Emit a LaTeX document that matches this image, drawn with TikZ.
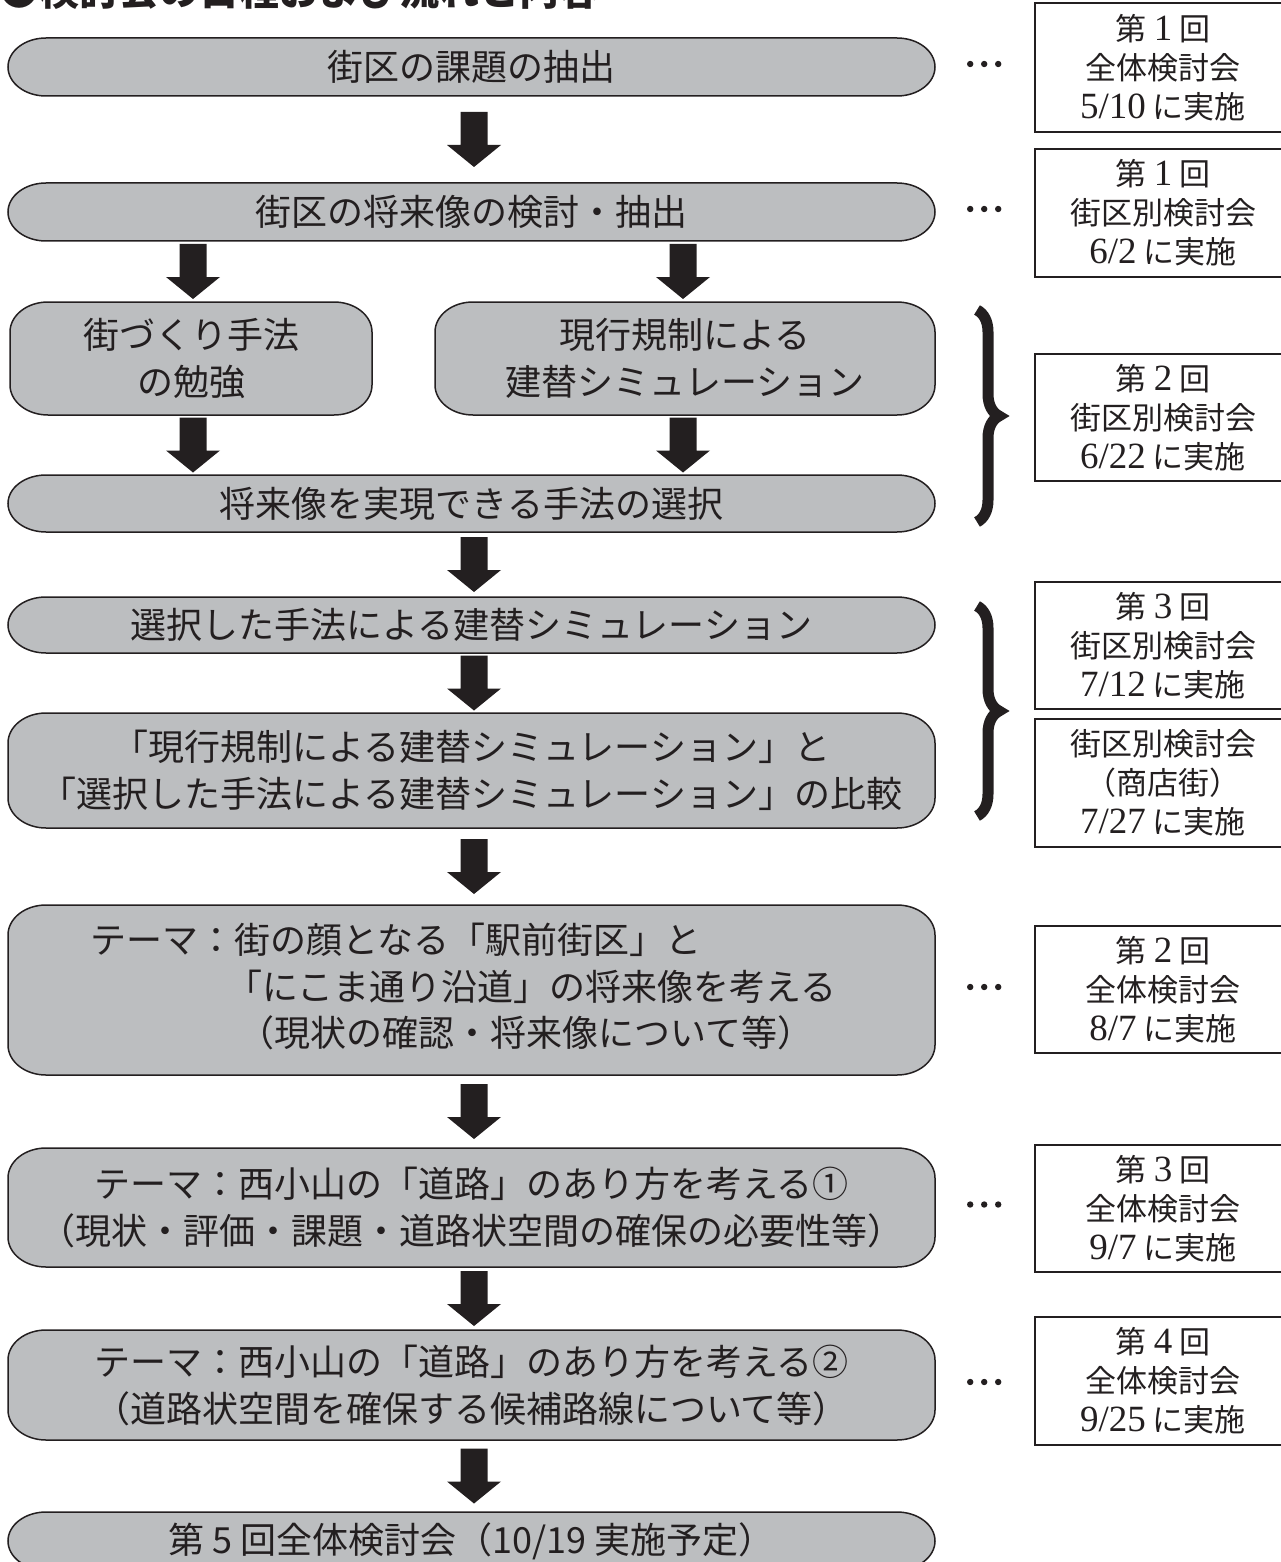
\documentclass[tikz,border=0pt]{standalone}
\usepackage{fontspec}
\newfontfamily\gothic{Noto Sans CJK JP}
\newfontfamily\rserif{Liberation Serif}
\usetikzlibrary{calc,decorations.pathreplacing}
\definecolor{boxgray}{HTML}{BCBEC0}
\definecolor{ink}{HTML}{231F20}
\newcommand\rdig[1]{{\rserif\fontsize{37}{39}\selectfont #1}}
\tikzset{
  boxshape/.style={fill=boxgray,draw=ink,line width=1.5pt},
  boxtext/.style={inner sep=0pt,align=center,text=ink,font=\gothic\fontsize{36}{47}\selectfont},
  linetext/.style={inner sep=0pt,anchor=west,text=ink,font=\gothic\fontsize{36}{47}\selectfont},
  rbox/.style={draw=ink,line width=1.3pt,fill=white,inner sep=0pt,align=center,text=ink,
    minimum width=256pt,font=\gothic\fontsize{31}{39}\selectfont},
  arrowfill/.style={fill=ink},
  bracestyle/.style={draw=ink,line width=11pt,decorate,decoration={brace,amplitude=22pt}},
}
\newcommand\flowbox[6]{%
  \pgfmathsetmacro\fbry{min(30,(#5-#3)/2)}%
  \pgfmathsetmacro\fbrx{38}%
  \path[boxshape] (#2+\fbrx,-#3) -- (#4-\fbrx,-#3)
    arc[start angle=90,end angle=0,x radius=\fbrx pt,y radius=\fbry pt]
    -- (#4,-#5+\fbry)
    arc[start angle=0,end angle=-90,x radius=\fbrx pt,y radius=\fbry pt]
    -- (#2+\fbrx,-#5)
    arc[start angle=270,end angle=180,x radius=\fbrx pt,y radius=\fbry pt]
    -- (#2,-#3-\fbry)
    arc[start angle=180,end angle=90,x radius=\fbrx pt,y radius=\fbry pt]
    -- cycle;
  \node[boxtext,minimum width={#4-#2},minimum height={#5-#3}] (#1) at ({(#2+#4)/2},{-(#3+#5)/2}) {#6};
}
\newcommand\blockarrow[3]{%
  \fill[arrowfill] let \p1=(#1.south), \p2=(#2.north), \n1={(\y1+\y2)/2} in
    (#3-13.5,\n1+27.5) -- (#3+13.5,\n1+27.5) -- (#3+13.5,\n1-5.5) -- (#3+27,\n1-5.5)
    -- (#3,\n1-27.5) -- (#3-27,\n1-5.5) -- (#3-13.5,\n1-5.5) -- cycle;
}
\newcommand\leaderdots[1]{%
  \fill[ink] let \p1=(#1.east) in
    (\x1+35,\y1+3) circle (3.2pt) (\x1+49,\y1+3) circle (3.2pt) (\x1+63,\y1+3) circle (3.2pt);
}
\begin{document}
\begin{tikzpicture}[x=1pt,y=1pt]
\useasboundingbox (0,0) rectangle (1281,-1562);
\clip (0,0) rectangle (1281,-1562);

% title (cut off at top)
\node[anchor=base west,inner sep=0pt,text=ink,font=\gothic\bfseries\fontsize{40}{40}\selectfont] (title) at (-1,-6) {●検討会の日程および流れと内容};

% main flow boxes
\flowbox{b1}{8}{38}{935}{96}{街区の課題の抽出}
\flowbox{b2}{8}{183}{935}{241}{街区の将来像の検討・抽出}
\flowbox{b3a}{10}{302}{372}{415}{街づくり手法\\の勉強}
\flowbox{b3b}{435}{302}{935}{415}{現行規制による\\建替シミュレーション}
\flowbox{b4}{8}{475}{935}{532}{将来像を実現できる手法の選択}
\flowbox{b5}{8}{597}{935}{653}{選択した手法による建替シミュレーション}
\flowbox{b6}{8}{713}{935}{828}{「現行規制による建替シミュレーション」と\\「選択した手法による建替シミュレーション」の比較}
\flowbox{b7}{8}{905}{935}{1075}{}
\node[linetext] (t7a) at (90,-940) {テーマ：街の顔となる「駅前街区」と};
\node[linetext] (t7b) at (226,-987) {「にこま通り沿道」の将来像を考える};
\node[linetext] (t7c) at (238,-1033) {（現状の確認・将来像について等）};
\flowbox{b8}{8}{1148}{935}{1267}{テーマ：西小山の「道路」のあり方を考える①\\（現状・評価・課題・道路状空間の確保の必要性等）}
\flowbox{b9}{8}{1330}{935}{1440}{テーマ：西小山の「道路」のあり方を考える②\\（道路状空間を確保する候補路線について等）}
\flowbox{b10}{8}{1512}{935}{1570}{第 5 回全体検討会（10/19 実施予定）}

% arrows
\blockarrow{b1}{b2}{474}
\blockarrow{b2}{b3a}{193}
\blockarrow{b2}{b3b}{683}
\blockarrow{b3a}{b4}{193}
\blockarrow{b3b}{b4}{683}
\blockarrow{b4}{b5}{474}
\blockarrow{b5}{b6}{474}
\blockarrow{b6}{b7}{474}
\blockarrow{b7}{b8}{474}
\blockarrow{b8}{b9}{474}
\blockarrow{b9}{b10}{474}

% leader dots
\leaderdots{b1}
\leaderdots{b2}
\leaderdots{b7}
\leaderdots{b8}
\leaderdots{b9}

% braces
\draw[bracestyle] (977,-310) -- (977,-522);
\draw[bracestyle] (977,-606) -- (977,-816);

% right-hand meeting boxes
\node[rbox,minimum height=129pt] (r1) at (1163,-67.5) {第 \rdig{1} 回\\全体検討会\\\rdig{5/10} に実施};
\node[rbox,minimum height=128pt] (r2) at (1163,-213) {第 \rdig{1} 回\\街区別検討会\\\rdig{6/2} に実施};
\node[rbox,minimum height=127pt] (r3) at (1163,-417.5) {第 \rdig{2} 回\\街区別検討会\\\rdig{6/22} に実施};
\node[rbox,minimum height=127pt] (r4) at (1163,-645.5) {第 \rdig{3} 回\\街区別検討会\\\rdig{7/12} に実施};
\node[rbox,minimum height=128pt] (r5) at (1163,-783) {街区別検討会\\（商店街）\\\rdig{7/27} に実施};
\node[rbox,minimum height=127pt] (r6) at (1163,-989.5) {第 \rdig{2} 回\\全体検討会\\\rdig{8/7} に実施};
\node[rbox,minimum height=127pt] (r7) at (1163,-1208.5) {第 \rdig{3} 回\\全体検討会\\\rdig{9/7} に実施};
\node[rbox,minimum height=128pt] (r8) at (1163,-1381) {第 \rdig{4} 回\\全体検討会\\\rdig{9/25} に実施};
\end{tikzpicture}
\end{document}
